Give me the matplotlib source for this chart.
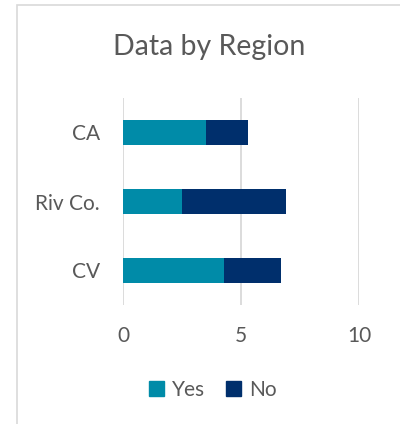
import numpy as np
import matplotlib
matplotlib.use('Agg')
from matplotlib import pyplot as plt
from matplotlib.patches import Rectangle, Patch

# data
regions = ['CA', 'Riv Co.', 'CV']
yes = [3.5, 2.5, 4.3]
no = [1.8, 4.4, 2.4]
xticks = [0, 5, 10]

teal = '#008BA8'
navy = '#002F6C'
grey_txt = '#595959'

plt.rcParams['font.family'] = ['Lato', 'DejaVu Sans']

fig = plt.figure(figsize=(4, 4.24), dpi=100)
# chart-area frame (cropped on right/bottom)
fig.patches.append(Rectangle((16.5 / 400, -0.1), 1.2, 1 - 5.5 / 424 + 0.1,
                             transform=fig.transFigure, fill=False,
                             edgecolor='#D9D9D9', linewidth=1.2))

ax = fig.add_axes([123 / 400, 1 - 305 / 424, 236 / 400, 207 / 424])

pos = np.arange(len(regions))[::-1]
ax.barh(pos, yes, height=0.35, color=teal, label='Yes')
ax.barh(pos, no, left=yes, height=0.35, color=navy, label='No')

ax.set_xlim(0, 10)
ax.set_ylim(-0.5, 2.5)
ax.set_xticks(xticks)
ax.set_yticks(pos)
ax.set_yticklabels(regions)
ax.xaxis.grid(True, color='#D9D9D9', linewidth=1.3)
ax.set_axisbelow(True)
for s in ax.spines.values():
    s.set_visible(False)
ax.tick_params(axis='both', length=0, labelsize=15, labelcolor=grey_txt)
ax.tick_params(axis='y', pad=16.5)
ax.tick_params(axis='x', pad=15)

fig.text(209 / 400, 1 - 47 / 424, 'Data by Region', ha='center', va='center',
         fontsize=20.5, color=grey_txt)

handles = [Patch(color=teal, label='Yes'), Patch(color=navy, label='No')]
fig.legend(handles=handles, loc='center', bbox_to_anchor=(213 / 400, 1 - 390 / 424),
           ncol=2, frameon=False, fontsize=15, labelcolor=grey_txt,
           handlelength=0.7, handleheight=0.7, handletextpad=0.4,
           columnspacing=1.0)

fig.savefig('out.png', dpi=100)
